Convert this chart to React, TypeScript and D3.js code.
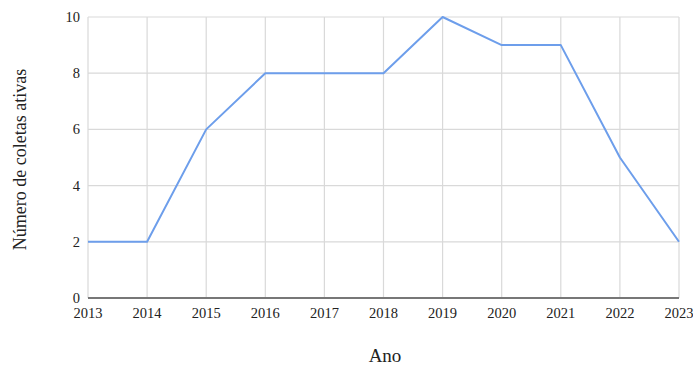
import React from 'react';
import * as d3 from 'd3';

const years = [2013, 2014, 2015, 2016, 2017, 2018, 2019, 2020, 2021, 2022, 2023];
const coletas = [2, 2, 6, 8, 8, 8, 10, 9, 9, 5, 2];
const yTicks = [0, 2, 4, 6, 8, 10];

const width = 693;
const height = 367;
const margin = { top: 17, right: 14, bottom: 69, left: 88 };

export default function App() {
    const x = d3
        .scaleLinear()
        .domain([2013, 2023])
        .range([margin.left, width - margin.right]);
    const y = d3
        .scaleLinear()
        .domain([0, 10])
        .range([height - margin.bottom, margin.top]);

    const line = d3
        .line<number>()
        .x((_, i) => x(years[i]))
        .y((d) => y(d));

    const font = '"Liberation Serif", "Times New Roman", serif';

    return (
        <svg
            width={width}
            height={height}
            style={{ position: 'absolute', left: 0, top: 0, background: '#fff' }}
        >
            {/* grid */}
            {years.map((yr) => (
                <line
                    key={'v' + yr}
                    x1={x(yr)}
                    x2={x(yr)}
                    y1={y(10)}
                    y2={y(0)}
                    stroke="#d9d9d9"
                    strokeWidth={1.2}
                />
            ))}
            {yTicks.map((t) => (
                <line
                    key={'h' + t}
                    x1={x(2013)}
                    x2={x(2023)}
                    y1={y(t)}
                    y2={y(t)}
                    stroke="#d9d9d9"
                    strokeWidth={1.2}
                />
            ))}
            {/* x axis line */}
            <line
                x1={x(2013)}
                x2={x(2023)}
                y1={y(0)}
                y2={y(0)}
                stroke="#777"
                strokeWidth={2}
            />
            {/* y tick labels */}
            {yTicks.map((t) => (
                <text
                    key={'yl' + t}
                    x={margin.left - 8}
                    y={y(t)}
                    dy="0.35em"
                    textAnchor="end"
                    fontFamily={font}
                    fontSize={14.5}
                    fill="#222"
                >
                    {t}
                </text>
            ))}
            {/* x tick labels */}
            {years.map((yr) => (
                <text
                    key={'xl' + yr}
                    x={x(yr)}
                    y={y(0) + 20}
                    textAnchor="middle"
                    fontFamily={font}
                    fontSize={14.5}
                    fill="#222"
                >
                    {yr}
                </text>
            ))}
            <path
                d={line(coletas) || ''}
                fill="none"
                stroke="#6d9eeb"
                strokeWidth={2}
                strokeLinejoin="round"
            />
            <text
                x={385}
                y={362}
                textAnchor="middle"
                fontFamily={font}
                fontSize={19}
                fill="#222"
            >
                Ano
            </text>
            <text
                transform={`translate(26, ${(y(0) + y(10)) / 2 + 2}) rotate(-90)`}
                textAnchor="middle"
                fontFamily={font}
                fontSize={18}
                fill="#222"
            >
                Número de coletas ativas
            </text>
        </svg>
    );
}
